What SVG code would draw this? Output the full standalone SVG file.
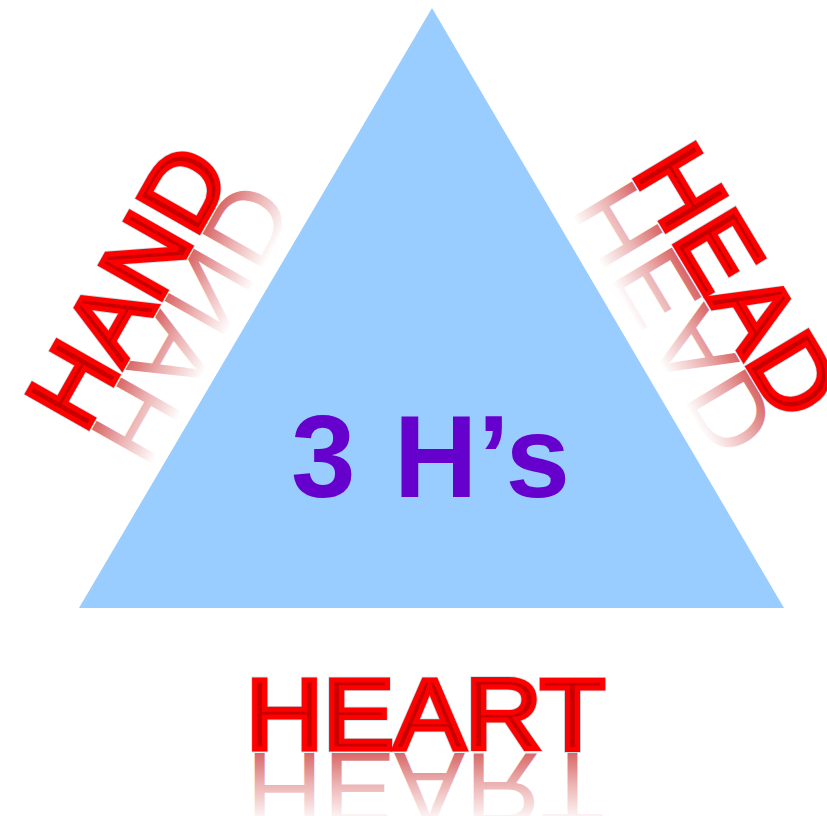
<svg xmlns="http://www.w3.org/2000/svg" width="827" height="816" viewBox="0 0 827 816">
  <defs>
    <linearGradient id="fade" gradientUnits="userSpaceOnUse" x1="0" y1="0" x2="0" y2="-70">
      <stop offset="0" stop-color="#C00000" stop-opacity="0.6"/>
      <stop offset="0.45" stop-color="#C00000" stop-opacity="0.3"/>
      <stop offset="1" stop-color="#C00000" stop-opacity="0"/>
    </linearGradient>
  </defs>
  <style>
    .halo { font-family: "Liberation Sans", Arial, sans-serif; font-size: 101px; fill: none; stroke: #C9DEE4; stroke-width: 6.5; stroke-linejoin: miter; }
    .word { font-family: "Liberation Sans", Arial, sans-serif; font-size: 101px; fill: #C80000; stroke: #FF0000; stroke-width: 5; stroke-linejoin: miter; }
    .refl { font-family: "Liberation Sans", Arial, sans-serif; font-size: 101px; fill: url(#fade); stroke: none; }
    .title { font-family: "Liberation Sans", Arial, sans-serif; font-size: 116px; font-weight: bold; fill: #6600CC; }
  </style>
  <rect width="827" height="816" fill="#FFFFFF"/>
  <g id="triangle">
    <polygon points="432,8 784,608 79,608" fill="#99CCFF"/>
    <text class="title" x="291" y="497">3 <tspan dx="6">H’s</tspan></text>
  </g>
  <g id="connectors"></g>
  <g id="hand" transform="translate(84,435) rotate(-60.5) scale(1.055,1)">
    <text class="refl" x="0" y="0" transform="translate(0,4) scale(1,-1)">HAND</text>
    <text class="halo" x="0" y="0">HAND</text>
    <text class="word" x="0" y="0">HAND</text>
  </g>
  <g id="head" transform="translate(631,172) rotate(59) scale(1.055,1)">
    <text class="refl" x="0" y="0" transform="translate(0,4) scale(1,-1)">HEAD</text>
    <text class="halo" x="0" y="0">HEAD</text>
    <text class="word" x="0" y="0">HEAD</text>
  </g>
  <g id="heart" transform="translate(246,748.5) scale(1.055,1)">
    <text class="refl" x="0" y="0" transform="translate(0,4) scale(1,-1)">HEART</text>
    <text class="halo" x="0" y="0">HEART</text>
    <text class="word" x="0" y="0">HEART</text>
  </g>
</svg>
